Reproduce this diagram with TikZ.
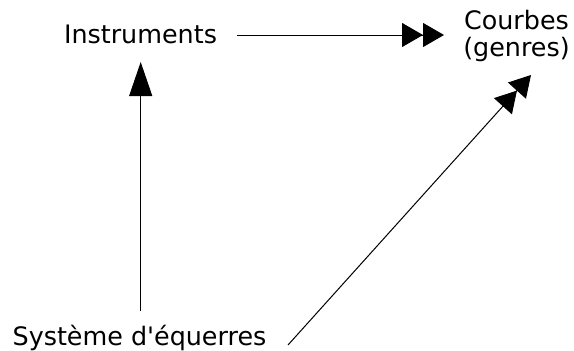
\documentclass[tikz,border=0pt]{standalone}
\usepackage{fontspec}
\setmainfont{DejaVu Sans}[Ligatures=TeXOff]
\usetikzlibrary{arrows.meta}
\begin{document}
\begin{tikzpicture}[x=1pt,y=-1pt,
  lbl/.style={inner sep=0pt,anchor=base,font=\fontsize{25.4}{27}\selectfont},
  conn/.style={line width=1pt},
  dbl/.style={-{Triangle[length=21pt,width=24pt]Triangle[length=21pt,width=24pt]}},
  sgl/.style={-{Triangle[length=34pt,width=23pt]}}]
\useasboundingbox[fill=white] (0,0) rectangle (574,351);
\node[lbl] (inst) at (140.5,43) {Instruments};
\node[lbl] (courb) at (516.5,29) {Courbes};
\node[lbl] (genr) at (516.5,56) {(genres)};
\node[lbl] (sys) at (139.5,345) {Système d'équerres};
\coordinate (h1) at (237,35);
\coordinate (h2) at (444,35);
\coordinate (v1) at (140.7,310.7);
\coordinate (v2) at (140.7,62);
\coordinate (d1) at (288,345);
\coordinate (d2) at (531,75);
\draw[conn,dbl] (h1) -- (h2);
\draw[conn,sgl] (v1) -- (v2);
\draw[conn,dbl] (d1) -- (d2);
\end{tikzpicture}
\end{document}
